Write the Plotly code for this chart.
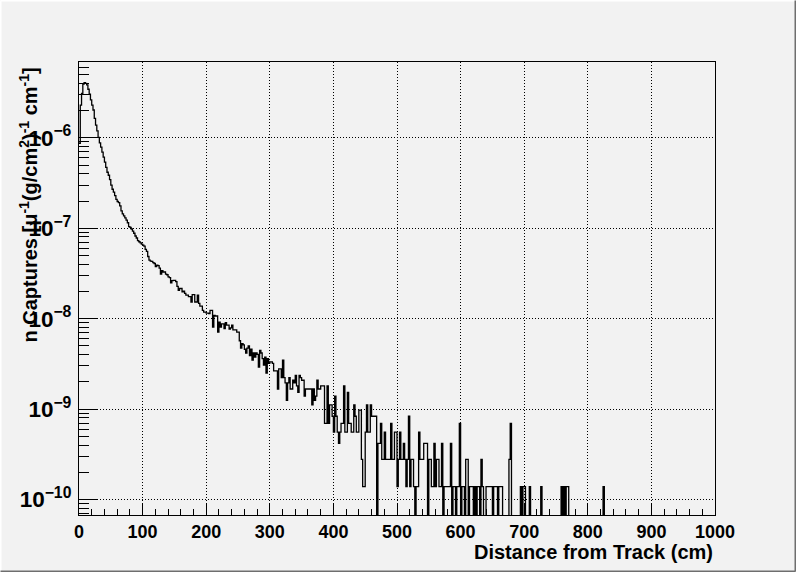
import plotly.graph_objects as go

# ---------------- data ----------------
bin_width_cm = 2.0          # histogram bin width
x_start_cm = 0.0            # lower edge of first bin
weight = 1.39e-10           # value of a single capture entry (y units)

# capture entries per 2 cm bin, bins 0..499 (0-1000 cm)
counts = [
    6260, 16550, 22300, 28270, 29200, 28780, 27700, 24750, 21800, 18850,
    16550, 14600, 11800, 9930, 8560, 7270, 6330, 5680, 5000, 4390,
    3880, 3380, 2990, 2770, 2480, 2160, 1940, 1800, 1650, 1500,
    1420, 1380, 1270, 1120, 1035, 985, 935, 885, 827, 750,
    734, 705, 669, 633, 590, 561, 525, 510, 495, 480,
    467, 455, 419, 400, 350, 319, 312, 310, 300, 293,
    270, 281, 278, 260, 224, 245, 236, 236, 224, 220,
    208, 205, 179, 189, 191, 191, 185, 164, 148, 155,
    155, 142, 145, 137, 131, 131, 126, 126, 110, 133,
    133, 110, 110, 131, 106, 99, 99, 89, 85, 85,
    83, 83, 82, 89, 89, 58, 78, 77, 77, 51,
    66, 58, 63, 63, 56, 65, 61, 61, 55, 57,
    61, 54, 54, 54, 51, 51, 41, 34, 38, 37,
    33, 30, 34, 36, 28, 33, 25, 30, 27, 30,
    29, 21, 32, 30, 26, 22, 27, 18, 26, 23,
    24, 24, 23, 19, 19, 19, 12, 20, 20, 16,
    25, 16, 14, 9, 14, 16, 12, 12, 15, 14,
    17, 13, 11, 17, 16, 15, 15, 10, 12, 12,
    12, 12, 12, 8, 12, 9, 10, 15, 12, 12,
    13, 13, 13, 5, 5, 13, 5, 8, 8, 6,
    4, 10, 6, 4, 3, 4, 5, 5, 13, 4,
    4, 11, 5, 5, 4, 4, 8, 6, 4, 4,
    7, 7, 2, 1, 1, 4, 8, 4, 4, 8,
    6, 6, 6, 6, 0, 3, 3, 5, 2, 2,
    4, 2, 2, 2, 2, 5, 2, 2, 4, 4,
    1, 2, 4, 2, 2, 3, 2, 1, 2, 6,
    1, 2, 2, 1, 0, 1, 1, 4, 2, 2,
    2, 3, 3, 3, 0, 2, 2, 1, 1, 3,
    1, 2, 2, 1, 1, 3, 0, 1, 1, 1,
    1, 1, 3, 0, 1, 1, 0, 1, 1, 5,
    0, 1, 1, 0, 2, 2, 0, 1, 1, 1,
    0, 1, 0, 1, 1, 0, 2, 1, 0, 0,
    1, 1, 1, 1, 1, 0, 1, 1, 1, 0,
    1, 1, 1, 0, 0, 0, 0, 0, 2, 5,
    0, 0, 0, 0, 0, 0, 0, 1, 0, 1,
    1, 0, 0, 0, 1, 0, 0, 0, 0, 0,
    0, 0, 0, 1, 0, 0, 0, 0, 0, 0,
    0, 0, 0, 0, 0, 0, 0, 0, 0, 1,
    0, 1, 0, 1, 1, 0, 0, 0, 0, 0,
    0, 0, 0, 0, 0, 0, 0, 0, 0, 0,
    0, 0, 0, 0, 0, 0, 0, 0, 0, 0,
    0, 0, 1, 0, 0, 0, 0, 0, 0, 0,
] + [0] * 80   # bins 420..499 are empty in the picture

x_tick_vals = [0, 100, 200, 300, 400, 500, 600, 700, 800, 900, 1000]
x_title = "Distance from Track (cm)"
y_title = "n Captures [μ<sup>-1</sup>(g/cm<sup>2</sup>)<sup>-1</sup> cm<sup>-1</sup>]"
y_range_log = [-10.171, -5.162]
x_range = [0, 1000]

# ---------------- build step outline ----------------
n_bins = len(counts)
edges = [x_start_cm + i * bin_width_cm for i in range(n_bins + 1)]
below_axis = 1e-14  # empty bins drop to the bottom of the frame
values = [c * weight if c > 0 else below_axis for c in counts]
xs = edges
ys = values + [values[-1]]

FONT = "Liberation Sans"
bg = "#f2f2f2"
DOTS = "1px,2px"

fig = go.Figure()
fig.add_trace(go.Scatter(
    x=xs, y=ys, mode="lines", line=dict(color="black", width=1.3, shape="hv"),
    hoverinfo="skip", showlegend=False,
))

fig.update_layout(
    width=796, height=572,
    margin=dict(l=79, r=81, t=62, b=57),
    paper_bgcolor=bg, plot_bgcolor=bg,
    font=dict(family=FONT, color="black"),
    showlegend=False,
)

fig.update_xaxes(
    range=x_range, tickvals=x_tick_vals,
    ticks="inside", ticklen=12, tickcolor="black", tickwidth=1,
    minor=dict(dtick=20, ticks="inside", ticklen=6, tickcolor="black", showgrid=False),
    showgrid=True, gridcolor="black", griddash=DOTS, gridwidth=1,
    showline=True, linecolor="black", linewidth=1, mirror=True,
    zeroline=False, ticklabelstandoff=0,
    tickfont=dict(family=FONT, size=18, color="black", weight="bold"),
)
fig.update_yaxes(
    type="log", range=y_range_log, dtick=1,
    exponentformat="power", showexponent="all",
    ticks="inside", ticklen=18, tickcolor="black", tickwidth=1,
    minor=dict(dtick="D1", ticks="inside", ticklen=10, tickcolor="black", showgrid=False),
    showgrid=True, gridcolor="black", griddash=DOTS, gridwidth=1,
    showline=True, linecolor="black", linewidth=1, mirror=True,
    zeroline=False, ticklabelstandoff=3,
    tickfont=dict(family=FONT, size=18, color="black", weight="bold"),
)

# axis titles placed as in the reference (x title right-aligned, y title top-aligned)
fig.add_annotation(
    text=x_title, xref="paper", yref="paper", x=1.0, y=-(552 - 515) / 453,
    xanchor="right", yanchor="middle", showarrow=False,
    font=dict(family=FONT, size=20, color="black", weight="bold"),
)
fig.add_annotation(
    text=y_title, xref="paper", yref="paper", x=(28 - 79) / 636, y=1 - (66 - 62) / 453,
    xanchor="center", yanchor="top", textangle=-90, showarrow=False,
    font=dict(family=FONT, size=20, color="black", weight="bold"),
)

# canvas bevel border
pw, ph = 636, 453
L, R = -78.5 / pw, (795.5 - 79) / pw
B, T = -(571.5 - 515) / ph, 1 + 61.5 / ph
for (x0, y0, x1, y1, c) in [
    (L, T, R, T, "#ffffff"), (L, B, L, T, "#ffffff"),
    (R, B, R, T, "#6e6e6e"), (L, B, R, B, "#6e6e6e"),
]:
    fig.add_shape(type="line", xref="paper", yref="paper", x0=x0, y0=y0, x1=x1, y1=y1,
                  line=dict(color=c, width=2))

fig.write_html(
    "out.html",
    config={"displayModeBar": False},
    post_script="document.body.style.margin='0';document.body.style.background='#f2f2f2';",
)
